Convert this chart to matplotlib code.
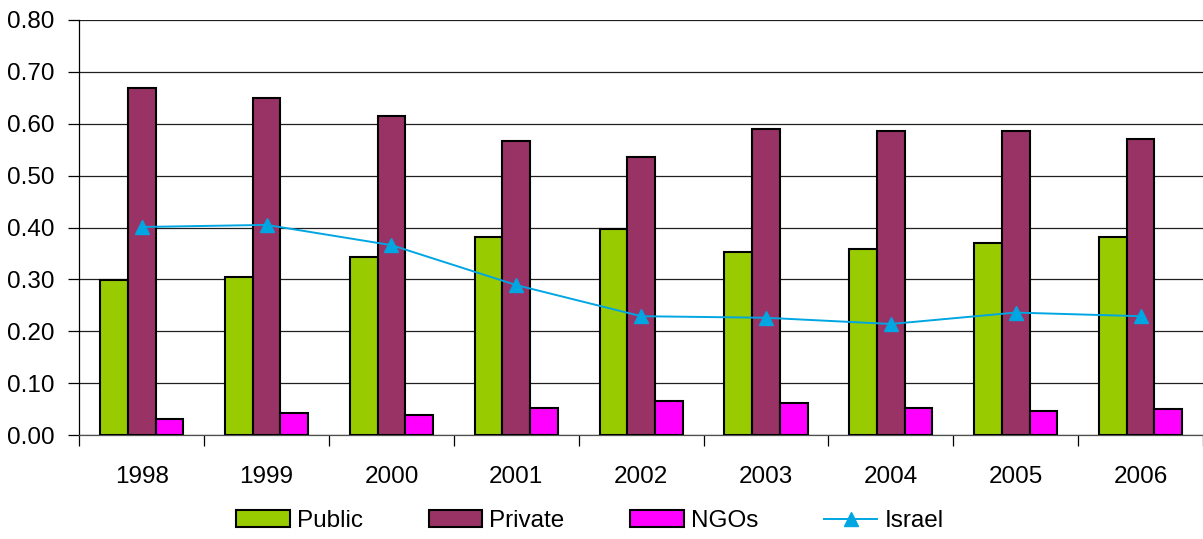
import numpy as np
import matplotlib
matplotlib.use("Agg")
import matplotlib.pyplot as plt
from matplotlib.ticker import FixedLocator, FormatStrFormatter

plt.rcParams["font.family"] = ["Liberation Sans", "DejaVu Sans"]

# data
years = ["1998", "1999", "2000", "2001", "2002", "2003", "2004", "2005", "2006"]
public = [0.298, 0.305, 0.344, 0.382, 0.397, 0.352, 0.359, 0.371, 0.382]
private = [0.669, 0.650, 0.615, 0.566, 0.536, 0.589, 0.586, 0.586, 0.570]
ngos = [0.031, 0.042, 0.038, 0.053, 0.065, 0.061, 0.053, 0.046, 0.050]
israel = [0.401, 0.405, 0.366, 0.289, 0.229, 0.226, 0.214, 0.236, 0.229]

fig = plt.figure(figsize=(12.03, 5.39), dpi=100)
ax = fig.add_axes([79.3 / 1203, 1 - 435 / 539, 1123.7 / 1203, 415 / 539])

x = np.arange(len(years))
w = 0.222
edge = dict(edgecolor="black", linewidth=1.5, zorder=3)
b1 = ax.bar(x - w, public, w, color="#99CC00", label="Public", **edge)
b2 = ax.bar(x, private, w, color="#993366", label="Private", **edge)
b3 = ax.bar(x + w, ngos, w, color="#FF00FF", label="NGOs", **edge)
ln, = ax.plot(x, israel, color="#00A6E2", lw=1.4, marker="^", markersize=10,
              label="Israel", zorder=4)

ax.set_xlim(-0.5, len(years) - 0.5)
ax.set_ylim(0, 0.8)
ax.set_yticks(np.arange(0, 0.81, 0.1))
ax.yaxis.set_major_formatter(FormatStrFormatter("%.2f"))
ax.set_xticks(x)
ax.set_xticklabels(years)
ax.xaxis.set_minor_locator(FixedLocator(np.arange(-0.5, len(years), 1.0)))
ax.tick_params(axis="x", which="major", length=0, pad=22, labelsize=17.5)
ax.tick_params(axis="x", which="minor", length=8, width=0.9, direction="out")
ax.tick_params(axis="y", length=8, width=0.9, direction="out", pad=10, labelsize=17.5)

ax.grid(axis="y", color="#202020", lw=0.9, zorder=0)
ax.set_axisbelow(True)
for s in ["top", "right"]:
    ax.spines[s].set_visible(False)
ax.spines["left"].set_linewidth(0.9)
ax.spines["bottom"].set_linewidth(0.9)
ax.spines["bottom"].set_color("#505050")

fig.legend([b1, b2, b3, ln], ["Public", "Private", "NGOs", "Israel"],
           loc="center", bbox_to_anchor=(590 / 1203, 1 - 521 / 539), ncol=4,
           frameon=False, fontsize=17.5, handlelength=2.2, handletextpad=0.3,
           columnspacing=2.7)

fig.savefig("out.png", dpi=100)
